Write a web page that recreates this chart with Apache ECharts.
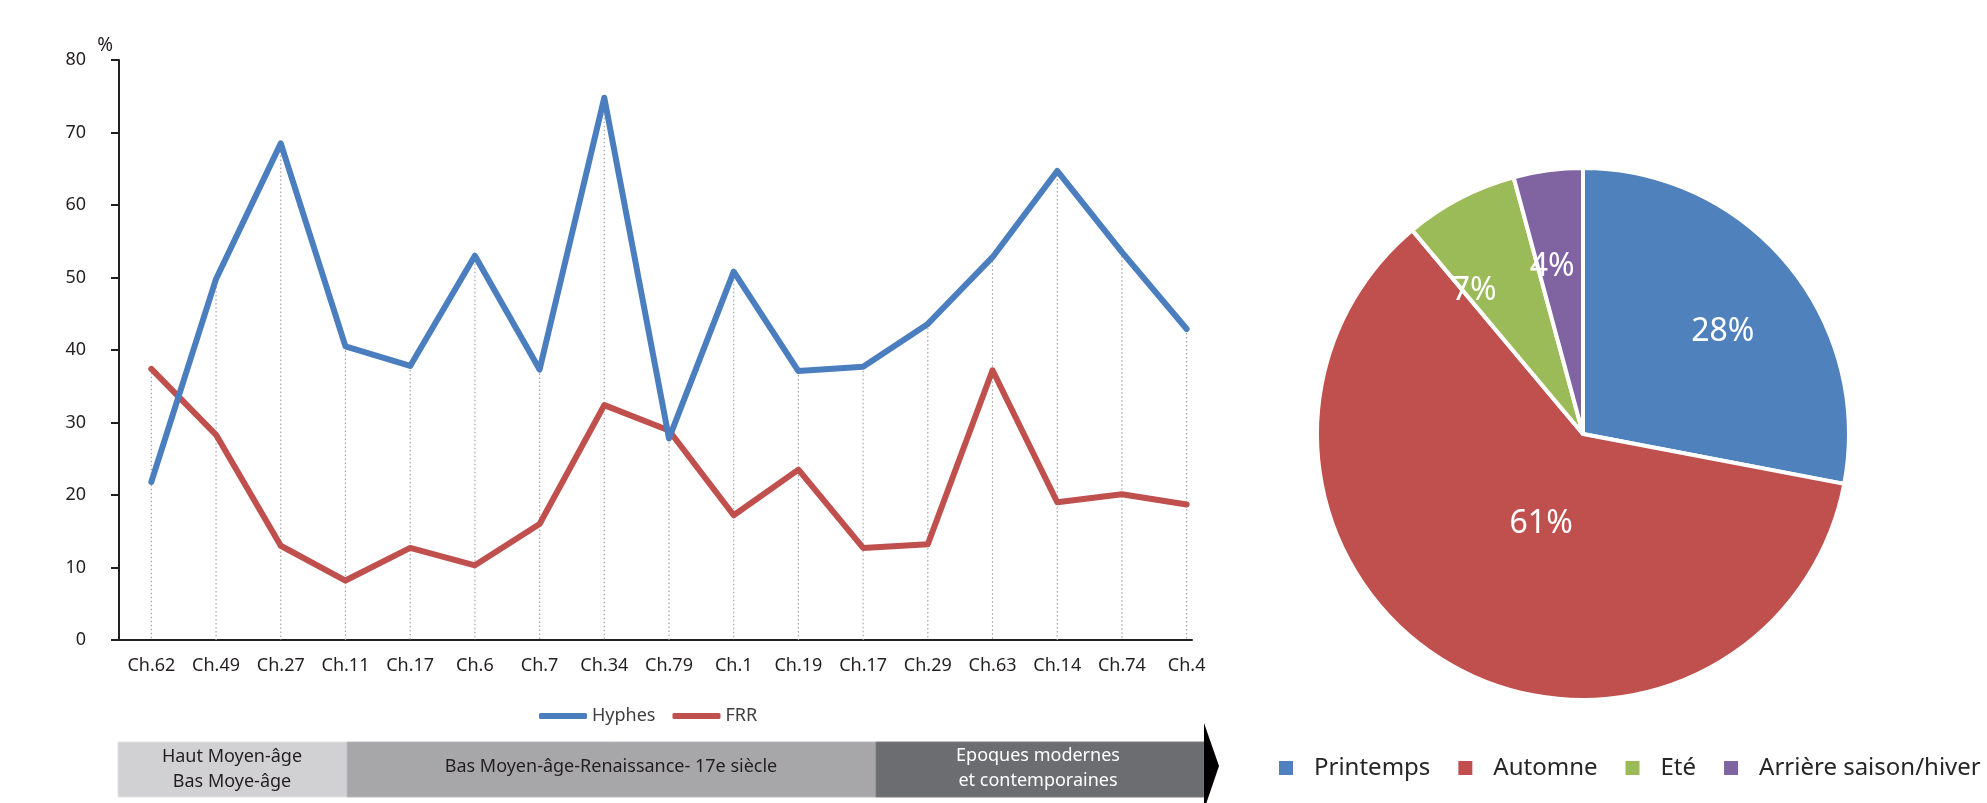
<!DOCTYPE html>
<html><head><meta charset="utf-8">
<script src="https://cdn.jsdelivr.net/npm/echarts@6/dist/echarts.min.js"></script>
<style>html,body{margin:0;padding:0;background:#fff}#c{width:1987px;height:803px}</style>
</head><body><div id="c"></div>
<script>
// ---- data ----
const categories = ['Ch.62','Ch.49','Ch.27','Ch.11','Ch.17','Ch.6','Ch.7','Ch.34','Ch.79','Ch.1','Ch.19','Ch.17','Ch.29','Ch.63','Ch.14','Ch.74','Ch.4'];
const hyphes = [21.8, 49.8, 68.5, 40.5, 37.8, 53.0, 37.3, 74.8, 27.8, 50.8, 37.1, 37.7, 43.6, 52.8, 64.7, 53.5, 42.9];
const frr    = [37.4, 28.3, 13.0, 8.2, 12.7, 10.3, 16.0, 32.4, 28.9, 17.2, 23.5, 12.7, 13.2, 37.2, 19.0, 20.1, 18.7];
const seriesNames = ['Hyphes', 'FRR'];
const seasons = ['Printemps', 'Automne', 'Eté', 'Arrière saison/hiver'];
const seasonShares = [28, 60.9, 6.9, 4.2];
const yTicks = [0, 80, 10]; // min, max, interval
const eras = ['Haut Moyen-âge\nBas Moye-âge', 'Bas Moyen-âge-Renaissance- 17e siècle', 'Epoques modernes\net contemporaines'];

// ---- styles ----
const FONT = 'Noto Sans';
const INK = '#231F20';
const pieLabelShift = [[35, -15], [27, -27], [-46, -23], [-13, -32]];

const chart = echarts.init(document.getElementById('c'), null, {renderer: 'canvas'});
const dropData = categories.map((c, i) => [i, Math.max(hyphes[i], frr[i])]);

const option = {
  animation: false,
  textStyle: {fontFamily: FONT},
  grid: [
    {left: 119, right: 768, top: 60, bottom: 163},
    {left: 119, right: 795, top: 60, bottom: 163}
  ],
  xAxis: [
    {
      type: 'category', data: categories, boundaryGap: true, gridIndex: 0,
      axisLine: {show: false},
      axisTick: {show: false},
      axisLabel: {interval: 0, margin: 17, fontSize: 18, color: INK, fontFamily: FONT},
      splitLine: {show: false}
    },
    {
      type: 'value', gridIndex: 1, min: 0, max: 1,
      axisLine: {show: true, onZero: false, lineStyle: {color: INK, width: 2}},
      axisTick: {show: false}, axisLabel: {show: false}, splitLine: {show: false}
    }
  ],
  yAxis: [
    {
      type: 'value', gridIndex: 0, min: yTicks[0], max: yTicks[1], interval: yTicks[2],
      name: '%', nameLocation: 'end', nameGap: 5,
      nameTextStyle: {fontSize: 19, color: INK, fontFamily: FONT, align: 'right', verticalAlign: 'bottom', padding: [0, 6, 0, 0]},
      axisLine: {show: true, lineStyle: {color: INK, width: 2}},
      axisTick: {show: true, inside: false, length: 8, lineStyle: {color: INK, width: 2}},
      axisLabel: {margin: 33, fontSize: 18, color: INK, fontFamily: FONT},
      splitLine: {show: false}
    },
    {type: 'value', gridIndex: 1, min: 0, max: 1, show: false}
  ],
  legend: [
    {
      data: seriesNames, left: 534, top: 702, icon: 'roundRect',
      itemWidth: 48, itemHeight: 6, itemGap: 17,
      textStyle: {fontSize: 18, color: '#404040', fontFamily: FONT}
    },
    {
      data: seasons, left: 1272, top: 751, width: 1400, icon: 'rect',
      itemWidth: 16, itemHeight: 16, itemGap: 26,
      textStyle: {fontSize: 24, color: '#262626', fontFamily: FONT, padding: [0, 0, 0, 15]}
    }
  ],
  series: [
    {
      type: 'custom', silent: true, z: 1, xAxisIndex: 0, yAxisIndex: 0,
      renderItem: (params, api) => {
        const i = api.value(0);
        const p1 = api.coord([i, api.value(1)]);
        const p0 = api.coord([i, 0]);
        return {type: 'line', shape: {x1: p1[0], y1: p1[1], x2: p0[0], y2: p0[1]},
          style: {stroke: '#a3a3a3', lineWidth: 1.2, lineDash: [1.5, 2.5]}};
      },
      data: dropData
    },
    {
      name: seriesNames[0], type: 'line', data: hyphes, symbol: 'none', z: 3,
      xAxisIndex: 0, yAxisIndex: 0,
      color: '#4A7EBF',
      lineStyle: {color: '#4A7EBF', width: 6, cap: 'round', join: 'round'}
    },
    {
      name: seriesNames[1], type: 'line', data: frr, symbol: 'none', z: 2,
      xAxisIndex: 0, yAxisIndex: 0,
      color: '#C0504D',
      lineStyle: {color: '#C0504D', width: 6, cap: 'round', join: 'round'}
    },
    {
      type: 'pie', center: [1583, 434], radius: 266, startAngle: 90, clockwise: true,
      avoidLabelOverlap: false,
      color: ['#4F81BD', '#C0504D', '#9BBB59', '#8064A2'],
      itemStyle: {borderColor: '#fff', borderWidth: 4},
      label: {show: true, position: 'inside', color: '#fff', fontSize: 32, fontFamily: FONT,
        formatter: p => Math.round(p.percent) + '%'},
      labelLine: {show: false},
      labelLayout: p => ({dx: pieLabelShift[p.dataIndex][0], dy: pieLabelShift[p.dataIndex][1]}),
      emphasis: {disabled: true},
      data: seasons.map((n, i) => ({name: n, value: seasonShares[i]}))
    }
  ],
  graphic: [
    {type: 'rect', shape: {x: 118, y: 742, width: 229, height: 55}, style: {fill: '#D1D1D4', stroke: '#E2E2E4', lineWidth: 1}},
    {type: 'rect', shape: {x: 347, y: 742, width: 529, height: 55}, style: {fill: '#A7A7AA', stroke: '#B8B8BB', lineWidth: 1}},
    {type: 'rect', shape: {x: 876, y: 742, width: 328, height: 55}, style: {fill: '#6C6D70', stroke: '#7C7D80', lineWidth: 1}},
    {type: 'polygon', shape: {points: [[1204, 723], [1219, 766], [1204, 810]]}, style: {fill: '#000'}},
    {type: 'text', x: 232, y: 769, style: {text: eras[0], font: '18px "Noto Sans"', fill: INK, align: 'center', verticalAlign: 'middle', lineHeight: 25}},
    {type: 'text', x: 611, y: 767, style: {text: eras[1], font: '18px "Noto Sans"', fill: INK, align: 'center', verticalAlign: 'middle'}},
    {type: 'text', x: 1038, y: 768, style: {text: eras[2], font: '18px "Noto Sans"', fill: '#fff', align: 'center', verticalAlign: 'middle', lineHeight: 25}}
  ]
};
chart.setOption(option);
</script>
</body></html>
